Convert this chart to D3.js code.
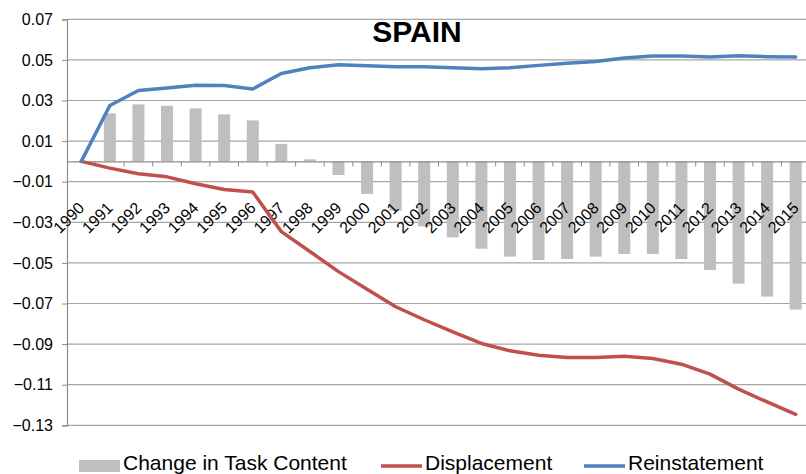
<!DOCTYPE html>
<html>
<head>
<meta charset="utf-8">
<script src="https://cdn.jsdelivr.net/npm/d3@7"></script>
<style>
    body { margin: 0; background: #fff; }
    text { font-family: "Liberation Sans", Arial, sans-serif; }
</style>
</head>
<body>
<svg id="chart" width="806" height="474"></svg>
<script>
let years = ["1990","1991","1992","1993","1994","1995","1996","1997","1998","1999","2000","2001","2002",
             "2003","2004","2005","2006","2007","2008","2009","2010","2011","2012","2013","2014","2015"];

// Change in Task Content (bars)
let taskContent = [0, 0.0237, 0.0281, 0.0274, 0.0261, 0.0232, 0.0202, 0.0086, 0.0010, -0.0067, -0.0160, -0.0243, -0.0320,
                   -0.0374, -0.0430, -0.0469, -0.0486, -0.0481, -0.0469, -0.0456, -0.0456, -0.0481, -0.0535, -0.0602, -0.0666, -0.0730];
// Displacement (red line)
let displacement = [0, -0.0033, -0.0061, -0.0076, -0.0110, -0.0138, -0.0151, -0.0346, -0.0444, -0.0543, -0.0630, -0.0716, -0.0780,
                    -0.0840, -0.0897, -0.0933, -0.0955, -0.0966, -0.0966, -0.0960, -0.0971, -0.0999, -0.1048, -0.1122, -0.1185, -0.1246];
// Reinstatement (blue line)
let reinstatement = [0, 0.0275, 0.0349, 0.0362, 0.0375, 0.0374, 0.0357, 0.0433, 0.0461, 0.0476, 0.0471, 0.0466, 0.0466,
                     0.0461, 0.0456, 0.0461, 0.0473, 0.0484, 0.0492, 0.0509, 0.0519, 0.0519, 0.0514, 0.0520, 0.0516, 0.0514];

let yTicks = [0.07, 0.05, 0.03, 0.01, -0.01, -0.03, -0.05, -0.07, -0.09, -0.11, -0.13];

let legendItems = [
    {name: "Change in Task Content", type: "bar", color: "#bfbfbf"},
    {name: "Displacement", type: "line", color: "#c0504d"},
    {name: "Reinstatement", type: "line", color: "#4f81bd"}
];

let svg = d3.select("#chart");

let plotLeft = 67, plotRight = 810, plotTop = 19.3, plotBottom = 425.3;

let xMap = d3.scaleBand()
            .domain(years)
            .range([plotLeft, plotRight])
            .padding(0);
let yMap = d3.scaleLinear()
            .domain([-0.13, 0.07])
            .range([plotBottom, plotTop]);

// gridlines
svg.append("g").selectAll("line").data(yTicks).enter().append("line")
    .attr("x1", plotLeft).attr("x2", plotRight)
    .attr("y1", d => yMap(d)).attr("y2", d => yMap(d))
    .attr("stroke", "#a6a6a6")
    .attr("stroke-width", 1.2);

// y axis
let yAxis = d3.axisLeft(yMap)
    .tickValues(yTicks)
    .tickSize(5)
    .tickPadding(9)
    .tickFormat(d3.format(".2f"));
let yg = svg.append("g")
    .attr("transform", `translate(${plotLeft},0)`)
    .call(yAxis);
yg.select(".domain").attr("stroke", "#8c8c8c").attr("stroke-width", 1.2);
yg.selectAll(".tick line").attr("stroke", "#8c8c8c");
yg.selectAll(".tick text")
    .attr("font-size", 16)
    .attr("fill", "#000")
    .attr("font-family", "Liberation Sans, Arial, sans-serif");

// bars
let bw = 12;
svg.append("g").selectAll("rect").data(years).enter().append("rect")
    .attr("x", d => xMap(d) + xMap.bandwidth() / 2 - bw / 2)
    .attr("y", (d, i) => yMap(Math.max(0, taskContent[i])))
    .attr("width", bw)
    .attr("height", (d, i) => Math.abs(yMap(taskContent[i]) - yMap(0)))
    .attr("fill", "#bfbfbf");

// category axis at zero
let xAxis = d3.axisBottom(xMap)
    .tickSize(0)
    .tickFormat("");
let xg = svg.append("g")
    .attr("transform", `translate(0,${yMap(0)})`)
    .call(xAxis);
xg.select(".domain").attr("stroke", "#8c8c8c").attr("stroke-width", 1.2);
xg.append("g").selectAll("line").data(years.slice(1)).enter().append("line")
    .attr("x1", d => xMap(d)).attr("x2", d => xMap(d))
    .attr("y1", 0).attr("y2", 5)
    .attr("stroke", "#8c8c8c");

// rotated year labels
svg.append("g").selectAll("text").data(years).enter().append("text")
    .attr("transform", d => `translate(${xMap(d) + xMap.bandwidth() / 2 + 4},209) rotate(-45)`)
    .attr("text-anchor", "end")
    .attr("font-size", 16)
    .attr("fill", "#000")
    .text(d => d);

// lines
let cx = d => xMap(d) + xMap.bandwidth() / 2;
let lineGen = vals => d3.line()
    .x(d => cx(d))
    .y((d, i) => yMap(vals[i]))(years);

svg.append("path")
    .attr("d", lineGen(displacement))
    .attr("fill", "none")
    .attr("stroke", "#c0504d")
    .attr("stroke-width", 3.5)
    .attr("stroke-linejoin", "round")
    .attr("stroke-linecap", "round");

svg.append("path")
    .attr("d", lineGen(reinstatement))
    .attr("fill", "none")
    .attr("stroke", "#4f81bd")
    .attr("stroke-width", 3.5)
    .attr("stroke-linejoin", "round")
    .attr("stroke-linecap", "round");

// title
svg.append("text")
    .attr("x", 417)
    .attr("y", 42.3)
    .attr("text-anchor", "middle")
    .attr("font-size", 30)
    .attr("font-weight", "bold")
    .attr("fill", "#000")
    .text("SPAIN");

// legend (bottom edge, partly cropped as in the original)
let legendX = [79, 381, 584];
let lg = svg.append("g").selectAll("g").data(legendItems).enter().append("g")
    .attr("transform", (d, i) => `translate(${legendX[i]},0)`);
lg.filter(d => d.type == "bar").append("rect")
    .attr("x", 0).attr("y", 460)
    .attr("width", 41).attr("height", 12)
    .attr("fill", d => d.color);
lg.filter(d => d.type == "line").append("line")
    .attr("x1", 0).attr("x2", 41)
    .attr("y1", 466).attr("y2", 466)
    .attr("stroke", d => d.color)
    .attr("stroke-width", 3.5);
lg.append("text")
    .attr("x", 44)
    .attr("y", 470)
    .attr("font-size", 21)
    .attr("fill", "#000")
    .text(d => d.name);
</script>
</body>
</html>
